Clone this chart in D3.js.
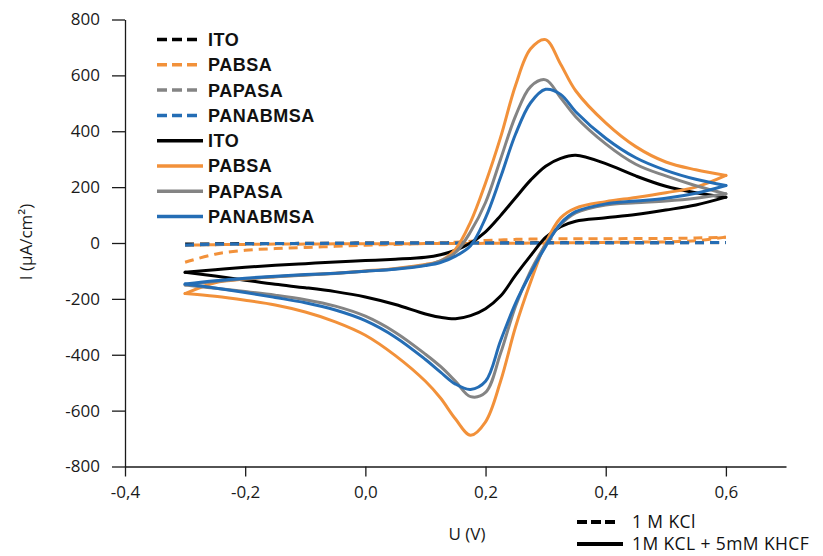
<!DOCTYPE html>
<html lang="en">
	<head>
		<meta charset="utf-8">
		<title>Cyclic voltammograms</title>
		<script type="text/javascript" src="https://cdn.jsdelivr.net/npm/d3@7"></script>
		<style>
			body { margin: 0; background: #fff; }
		</style>
	</head>
	<body>
		<script type="text/javascript">

			// potential grid (V), forward scan and reverse scan
			var voltFwd = [-0.3, -0.25, -0.2, -0.15, -0.1, -0.05, 0, 0.05, 0.1, 0.125, 0.15, 0.175, 0.2, 0.225, 0.25, 0.275, 0.3, 0.325, 0.35, 0.4, 0.45, 0.5, 0.55, 0.6];
			var voltRev = voltFwd.slice().reverse();

			// current density (uA/cm2) in 1M KCl + 5mM KHCF
			var itoFwd      = [-105, -96, -87, -80, -74, -68, -63, -58, -51, -42, -26, 0, 40, 98, 162, 225, 275, 303, 314, 284, 240, 203, 180, 164];
			var itoRev      = [164, 136, 118, 102, 90, 78, 58, 20, -45, -115, -190, -235, -260, -271, -266, -254, -220, -193, -174, -160, -148, -133, -118, -105];
			var pabsaFwd    = [-181, -142, -129, -121, -114, -108, -100, -91, -77, -64, -22, 75, 215, 378, 565, 695, 728, 640, 545, 430, 345, 290, 262, 242];
			var pabsaRev    = [242, 200, 180, 163, 148, 125, 90, 0, -140, -300, -495, -640, -688, -630, -555, -495, -403, -330, -282, -247, -222, -205, -191, -181];
			var papasaFwd   = [-150, -138, -128, -121, -115, -109, -101, -92, -79, -64, -34, 40, 145, 300, 455, 560, 584, 520, 452, 355, 282, 240, 205, 176];
			var papasaRev   = [176, 160, 150, 144, 136, 108, 66, -6, -100, -225, -395, -535, -550, -495, -442, -398, -320, -262, -226, -203, -187, -174, -162, -150];
			var panabmsaFwd = [-147, -135, -126, -119, -113, -108, -101, -94, -81, -70, -47, -10, 90, 235, 390, 502, 550, 532, 470, 375, 305, 260, 228, 206];
			var panabmsaRev = [206, 178, 160, 150, 140, 112, 70, -12, -108, -215, -350, -495, -524, -505, -462, -417, -337, -278, -240, -214, -195, -177, -161, -147];

			// current density (uA/cm2) in 1 M KCl
			var itoKcl       = [-4, -3, -2, -2, -1, -1, 0, 0, 0, 0, 1, 1, 1, 1, 1, 1, 2, 2, 2, 2, 2, 2, 2, 2];
			var pabsaKclFwd  = [-69, -40, -26, -20, -16, -12, -8, -5, -2, 0, 3, 6, 9, 11, 13, 14, 15, 15, 15, 15, 16, 16, 18, 21];
			var pabsaKclRev  = [21, 8, 4, 3, 2, 1, 1, 0, 0, -1, -1, -1, -2, -2, -2, -2, -3, -3, -3, -4, -4, -5, -6, -8];
			var papasaKcl    = [-9, -6, -4, -3, -3, -2, -2, -1, -1, -1, 0, 0, 0, 0, 0, 0, 0, 0, 0, 0, 0, 0, 1, 1];
			var panabmsaKcl  = [-7, -4, -3, -2, -2, -1, -1, 0, 0, 0, 0, 0, 0, 0, 0, 0, 0, 1, 1, 1, 1, 1, 1, 2];

			var names = ["ITO", "PABSA", "PAPASA", "PANABMSA"];
			var colors = ["#000000", "#F2913A", "#848484", "#246DB5"];

			var xTicks = [-0.4, -0.2, 0.0, 0.2, 0.4, 0.6];
			var yTicks = [-800, -600, -400, -200, 0, 200, 400, 600, 800];

			var width = 823;
			var height = 556;

			var xscale = d3.scaleLinear()
							.domain([-0.4, 0.7])
							.range([125, 786]);

			var yscale = d3.scaleLinear()
							.domain([-800, 800])
							.range([466.5, 19.5]);

			var svg = d3.select("body")
						.append("svg")
						.attr("width", width)
						.attr("height", height);

			function pairs(volts, vals) {
				return volts.map(function(v, i){ return [v, vals[i]]; });
			}

			var line = d3.line()
						.x(function(d){ return xscale(d[0]); })
						.y(function(d){ return yscale(d[1]); })
						.curve(d3.curveCatmullRom.alpha(0.5));

			// dashed (KCl) first, solid (KHCF) on top
			var kclBranches = [
				[pairs(voltFwd, itoKcl), 0],
				[pairs(voltFwd, pabsaKclFwd), 1],
				[pairs(voltRev, pabsaKclRev), 1],
				[pairs(voltFwd, papasaKcl), 2],
				[pairs(voltFwd, panabmsaKcl), 3]
			];

			var khcfBranches = [
				[pairs(voltFwd, itoFwd), 0],
				[pairs(voltRev, itoRev), 0],
				[pairs(voltFwd, pabsaFwd), 1],
				[pairs(voltRev, pabsaRev), 1],
				[pairs(voltFwd, papasaFwd), 2],
				[pairs(voltRev, papasaRev), 2],
				[pairs(voltFwd, panabmsaFwd), 3],
				[pairs(voltRev, panabmsaRev), 3]
			];

			svg.append("g").selectAll("path")
				.data(kclBranches)
				.enter()
				.append("path")
				.attr("d", function(d){ return line(d[0]); })
				.attr("fill", "none")
				.attr("stroke", function(d){ return colors[d[1]]; })
				.attr("stroke-width", 3)
				.attr("stroke-dasharray", "9,6");

			svg.append("g").selectAll("path")
				.data(khcfBranches)
				.enter()
				.append("path")
				.attr("d", function(d){ return line(d[0]); })
				.attr("fill", "none")
				.attr("stroke", function(d){ return colors[d[1]]; })
				.attr("stroke-width", 3)
				.attr("stroke-linecap", "round")
				.attr("stroke-linejoin", "round");

			// axes, hyphen instead of unicode minus as in the original
			var xAxis = d3.axisBottom(xscale)
							.tickValues(xTicks)
							.tickSize(10)
							.tickSizeOuter(0)
							.tickPadding(9)
							.tickFormat(function(d){ return d3.format(".1f")(d).replace("−", "-").replace(".", ","); });

			var yAxis = d3.axisLeft(yscale)
							.tickValues(yTicks)
							.tickSize(13)
							.tickSizeOuter(0)
							.tickPadding(12)
							.tickFormat(function(d){ return d3.format("d")(d).replace("−", "-"); });

			var gx = svg.append("g")
				.attr("transform", "translate(0," + yscale(-800) + ")")
				.call(xAxis);

			var gy = svg.append("g")
				.attr("transform", "translate(" + xscale(-0.4) + ",0)")
				.call(yAxis);

			[gx, gy].forEach(function(g){
				g.attr("font-family", "'Open Sans', sans-serif")
				 .attr("font-size", 17);
				g.selectAll("line, path").attr("stroke", "#1a1a1a").attr("stroke-width", 1.3);
				g.selectAll("text").attr("fill", "#1a1a1a");
			});

			// axis titles
			svg.append("text")
				.attr("transform", "translate(32,242) rotate(-90)")
				.attr("text-anchor", "middle")
				.attr("font-family", "'Open Sans', sans-serif")
				.attr("font-size", 17)
				.attr("fill", "#1a1a1a")
				.text("I (µA/cm²)");

			svg.append("text")
				.attr("x", 467)
				.attr("y", 540)
				.attr("text-anchor", "middle")
				.attr("font-family", "'Open Sans', sans-serif")
				.attr("font-size", 17)
				.attr("fill", "#1a1a1a")
				.text("U (V)");

			// series legend
			var legendItems = [];
			names.forEach(function(n, i){ legendItems.push({name: n, color: colors[i], dashed: true}); });
			names.forEach(function(n, i){ legendItems.push({name: n, color: colors[i], dashed: false}); });

			var legend = svg.append("g")
							.selectAll("g")
							.data(legendItems)
							.enter()
							.append("g")
							.attr("transform", function(d, i){ return "translate(157," + (39.5 + i * 25.3) + ")"; });

			legend.append("line")
				.attr("x1", 0)
				.attr("x2", function(d){ return d.dashed ? 40 : 46; })
				.attr("stroke", function(d){ return d.color; })
				.attr("stroke-width", 3.5)
				.attr("stroke-dasharray", function(d){ return d.dashed ? "10,5" : null; });

			legend.append("text")
				.attr("x", 51)
				.attr("dy", "0.36em")
				.attr("font-family", "'Liberation Sans', Arial, sans-serif")
				.attr("font-weight", "bold")
				.attr("font-size", 18)
				.attr("letter-spacing", 0.5)
				.attr("fill", "#111")
				.text(function(d){ return d.name; });

			// electrolyte legend
			var electrolytes = [
				{label: "1 M KCl", dashed: true},
				{label: "1M KCL + 5mM KHCF", dashed: false}
			];

			var legend2 = svg.append("g")
							.selectAll("g")
							.data(electrolytes)
							.enter()
							.append("g")
							.attr("transform", function(d, i){ return "translate(577," + (522 + i * 22) + ")"; });

			legend2.append("line")
				.attr("x1", 0)
				.attr("x2", function(d){ return d.dashed ? 38 : 46; })
				.attr("stroke", "#000")
				.attr("stroke-width", 4)
				.attr("stroke-dasharray", function(d){ return d.dashed ? "10,4" : null; });

			legend2.append("text")
				.attr("x", 55)
				.attr("dy", "0.36em")
				.attr("font-family", "'Open Sans', sans-serif")
				.attr("font-size", 17.5)
				.attr("letter-spacing", 0.4)
				.attr("fill", "#111")
				.text(function(d){ return d.label; });

		</script>
	</body>
</html>
